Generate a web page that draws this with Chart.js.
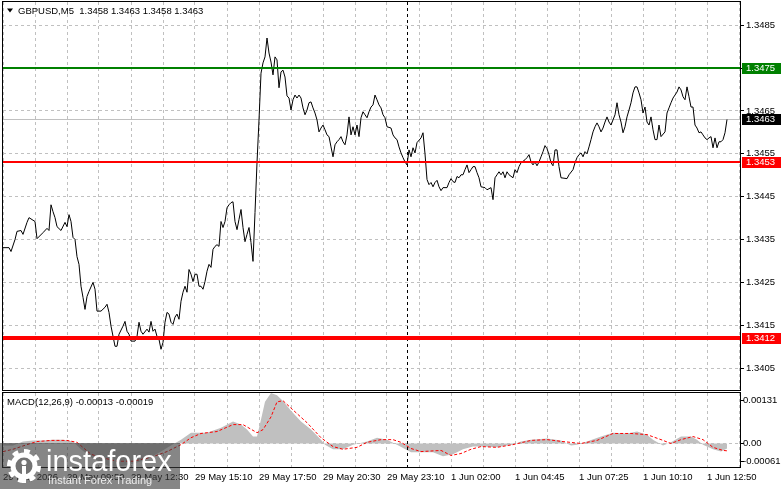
<!DOCTYPE html>
<html><head><meta charset="utf-8">
<script src="https://cdn.jsdelivr.net/npm/chart.js@4"></script>
<style>
html,body{margin:0;padding:0;background:#fff;overflow:hidden}
#wrap{position:relative;width:781px;height:489px;background:#fff}
canvas{position:absolute;left:0}
#c1{top:0}
#c2{top:391px}
</style></head><body>
<div id="wrap"><canvas id="c1" width="781" height="391"></canvas><canvas id="c2" width="781" height="98"></canvas></div>
<script>
// ---------------- DATA ----------------
const symbolTitle = 'GBPUSD,M5';
const titleOHLC = [1.3458, 1.3463, 1.3458, 1.3463];
const timeLabels = ['29 May 2026','29 May 09:50','29 May 12:30','29 May 15:10','29 May 17:50','29 May 20:30','29 May 23:10','1 Jun 02:00','1 Jun 04:45','1 Jun 07:25','1 Jun 10:10','1 Jun 12:50'];
const timeLabelBars = [0,32,64,96,128,160,192,224,256,288,320,352];
const priceTicks = [1.3405,1.3415,1.3425,1.3435,1.3445,1.3455,1.3465,1.3475,1.3485];
const priceRange = [1.33999, 1.34904];
const levelValues = [1.3475, 1.3453, 1.3412];
const bidPrice = 1.3463;
const separatorBar = 202;
const visibleBars = 368.5;
const macdParams = [12,26,9];
const macdLast = [-0.00013, -0.00019];
const macdRange = [-0.00061, 0.00131];

// [bar index, close]
const priceSeries = [
[0,1.34331],[3,1.34331],[4,1.34322],[6,1.34350],[7,1.34369],[9,1.34371],[10,1.34362],[12,1.34390],[13,1.34401],[16,1.34392],
[17,1.34352],[20,1.34366],[22,1.34376],[23,1.34371],[24,1.34431],[25,1.34415],[26,1.34401],[27,1.34380],[29,1.34371],[31,1.34390],
[32,1.34380],[33,1.34408],[34,1.34392],[35,1.34355],[36,1.34350],[37,1.34310],[38,1.34292],[39,1.34241],[40,1.34215],[41,1.34187],
[42,1.34217],[43,1.34229],[45,1.34250],[46,1.34234],[47,1.34183],[49,1.34183],[51,1.34192],[52,1.34199],[53,1.34180],[54,1.34148],
[56,1.34101],[57,1.34101],[58,1.34129],[60,1.34148],[61,1.34159],[62,1.34136],[63,1.34129],[64,1.34113],[66,1.34113],[67,1.34124],
[68,1.34157],[69,1.34136],[70,1.34129],[72,1.34141],[73,1.34134],[74,1.34159],[75,1.34136],[76,1.34141],[77,1.34124],[78,1.34117],
[79,1.34094],[80,1.34110],[81,1.34157],[82,1.34180],[83,1.34176],[84,1.34157],[85,1.34152],[86,1.34169],[87,1.34176],[88,1.34164],
[89,1.34206],[90,1.34227],[91,1.34241],[92,1.34227],[93,1.34280],[94,1.34269],[95,1.34252],[96,1.34269],[97,1.34269],[98,1.34241],
[99,1.34241],[100,1.34234],[101,1.34252],[102,1.34276],[103,1.34292],[104,1.34285],[105,1.34327],[106,1.34334],[107,1.34338],[108,1.34334],
[109,1.34392],[110,1.34378],[111,1.34392],[112,1.34424],[113,1.34431],[114,1.34436],[115,1.34438],[116,1.34392],[117,1.34373],[118,1.34397],
[119,1.34420],[120,1.34378],[121,1.34345],[122,1.34362],[123,1.34378],[124,1.34343],[125,1.34299],[126,1.34413],[127,1.34529],[128,1.34629],
[129,1.34738],[130,1.34762],[131,1.34776],[132,1.34820],[133,1.34785],[134,1.34764],[135,1.34734],[136,1.34776],[137,1.34769],[138,1.34704],
[139,1.34741],[140,1.34745],[141,1.34729],[142,1.34685],[143,1.34680],[144,1.34652],[145,1.34676],[146,1.34687],[147,1.34680],[148,1.34687],
[149,1.34680],[150,1.34657],[151,1.34641],[152,1.34652],[153,1.34669],[154,1.34671],[155,1.34657],[156,1.34645],[157,1.34629],[158,1.34601],
[159,1.34610],[160,1.34617],[161,1.34606],[162,1.34594],[163,1.34590],[164,1.34566],[165,1.34543],[166,1.34571],[167,1.34578],[168,1.34583],
[169,1.34590],[170,1.34578],[171,1.34571],[172,1.34594],[173,1.34636],[174,1.34594],[175,1.34613],[176,1.34594],[177,1.34617],[178,1.34590],
[179,1.34634],[180,1.34648],[181,1.34641],[182,1.34634],[183,1.34648],[184,1.34659],[185,1.34664],[186,1.34687],[187,1.34676],[188,1.34664],
[189,1.34657],[190,1.34641],[191,1.34634],[192,1.34613],[194,1.34610],[195,1.34594],[196,1.34587],[197,1.34583],[198,1.34566],[199,1.34552],
[200,1.34541],[201,1.34531],[202,1.34524],[203,1.34559],[204,1.34543],[205,1.34564],[206,1.34552],[207,1.34576],[209,1.34587],[210,1.34599],
[211,1.34550],[212,1.34490],[213,1.34478],[214,1.34483],[215,1.34473],[216,1.34483],[217,1.34488],[218,1.34473],[219,1.34464],[220,1.34471],
[222,1.34471],[223,1.34483],[224,1.34492],[225,1.34485],[226,1.34483],[227,1.34497],[228,1.34494],[229,1.34501],[230,1.34501],[231,1.34513],
[232,1.34524],[233,1.34506],[234,1.34513],[235,1.34520],[236,1.34520],[237,1.34506],[238,1.34494],[239,1.34473],[241,1.34471],[242,1.34466],
[244,1.34471],[245,1.34443],[246,1.34494],[247,1.34501],[248,1.34508],[249,1.34501],[250,1.34508],[251,1.34494],[252,1.34508],[253,1.34501],
[255,1.34494],[256,1.34513],[257,1.34506],[258,1.34520],[259,1.34529],[261,1.34536],[262,1.34541],[263,1.34548],[264,1.34531],[265,1.34524],
[266,1.34531],[267,1.34522],[268,1.34531],[269,1.34543],[270,1.34555],[271,1.34569],[272,1.34562],[273,1.34548],[274,1.34529],[275,1.34522],
[276,1.34559],[277,1.34559],[278,1.34520],[279,1.34494],[282,1.34492],[283,1.34501],[285,1.34513],[286,1.34529],[287,1.34541],[288,1.34548],
[289,1.34552],[290,1.34543],[291,1.34555],[292,1.34550],[293,1.34566],[294,1.34583],[295,1.34601],[296,1.34613],[297,1.34622],[298,1.34613],
[299,1.34601],[300,1.34610],[301,1.34624],[302,1.34636],[303,1.34624],[304,1.34617],[305,1.34629],[306,1.34641],[307,1.34669],[308,1.34641],
[309,1.34624],[310,1.34599],[311,1.34613],[312,1.34636],[313,1.34652],[314,1.34669],[315,1.34692],[316,1.34706],[317,1.34706],[318,1.34692],
[319,1.34676],[320,1.34645],[321,1.34659],[322,1.34624],[323,1.34617],[324,1.34636],[325,1.34606],[326,1.34583],[327,1.34583],[328,1.34617],
[329,1.34590],[331,1.34601],[332,1.34645],[333,1.34657],[334,1.34669],[335,1.34680],[337,1.34694],[338,1.34706],[339,1.34699],[340,1.34683],
[341,1.34676],[342,1.34706],[343,1.34683],[344,1.34659],[345,1.34659],[346,1.34617],[347,1.34610],[348,1.34599],[349,1.34601],[350,1.34594],
[351,1.34587],[352,1.34583],[353,1.34587],[354,1.34590],[355,1.34564],[356,1.34587],[357,1.34564],[358,1.34578],[359,1.34578],[360,1.34583],
[361,1.34599],[362,1.34630]
];

// [bar index, MACD main (histogram)]
const macdHistSeries = [
[0,-0.00005],[5,-0.00005],[10,0.00005],[15,0.00008],[20,0.00008],[25,0.00010],[30,0.00010],[35,0.00005],[39,-0.00015],[44,-0.00036],
[49,-0.00049],[54,-0.00061],[59,-0.00059],[64,-0.00054],[69,-0.00046],[74,-0.00036],[79,-0.00021],[84,-0.00005],[89,0.00010],[94,0.00028],
[102,0.00028],[109,0.00041],[115,0.00057],[119,0.00049],[122,0.00036],[125,0.00018],[127,0.00018],[129,0.00062],[131,0.00108],[134,0.00131],
[137,0.00125],[140,0.00110],[144,0.00085],[149,0.00057],[154,0.00036],[159,0.00010],[161,-0.00003],[165,-0.00015],[170,-0.00015],[175,-0.00003],
[182,0.00005],[187,0.00015],[192,0.00010],[197,-0.00003],[204,-0.00023],[209,-0.00023],[215,-0.00023],[220,-0.00033],[225,-0.00028],[230,-0.00015],
[235,-0.00008],[240,-0.00008],[247,-0.00010],[252,-0.00005],[255,-0.00003],[259,0.00005],[264,0.00010],[272,0.00013],[279,0.00008],[284,-0.00005],
[287,-0.00003],[292,0.00005],[299,0.00018],[305,0.00028],[312,0.00026],[317,0.00031],[322,0.00023],[325,0.00010],[330,-0.00005],[334,0.00003],
[339,0.00018],[344,0.00018],[347,0.00010],[350,-0.00003],[355,-0.00015],[359,-0.00021],[362,-0.00013]
];

// [bar index, signal]
const macdSignalSeries = [
[0,-0.00021],[5,-0.00015],[12,-0.00003],[17,0.00005],[24,0.00008],[32,0.00008],[37,0.00003],[44,-0.00028],[49,-0.00036],[57,-0.00046],
[65,-0.00046],[74,-0.00036],[82,-0.00021],[89,-0.00003],[94,0.00015],[99,0.00026],[107,0.00031],[115,0.00049],[120,0.00049],[127,0.00028],
[130,0.00036],[134,0.00069],[137,0.00108],[140,0.00111],[145,0.00087],[152,0.00054],[159,0.00015],[165,-0.00008],[170,-0.00015],[177,-0.00010],
[182,0.00003],[189,0.00010],[195,0.00010],[199,0.00003],[204,-0.00013],[209,-0.00021],[219,-0.00018],[224,-0.00031],[229,-0.00026],[234,-0.00015],
[239,-0.00008],[247,-0.00010],[255,-0.00003],[264,0.00008],[272,0.00010],[280,0.00005],[289,0.00000],[297,0.00008],[305,0.00026],[314,0.00026],
[322,0.00023],[329,0.00010],[334,0.00000],[339,0.00010],[345,0.00018],[350,0.00010],[355,-0.00010],[360,-0.00018],[362,-0.00019]
];

// ---------------- STYLE ----------------
const FONT = "'Liberation Sans', Arial, sans-serif";
const GRID = '#c0c0c0';
const levelStyles = [{color:'#008000',width:2},{color:'#ff0000',width:2},{color:'#ff0000',width:4}];
Chart.defaults.font.family = FONT;
Chart.defaults.font.size = 9.5;
Chart.defaults.color = '#000';

function gridTicks(s){ const t=[]; for(let v=0; v<=s.max; v+=16) t.push({value:v}); s.ticks=t; }
const toXY = arr => arr.map(p => ({x:p[0], y:p[1]}));
const crisp = v => Math.round(v) + 0.5;

const mainDeco = {
  id:'mainDeco',
  beforeDatasetsDraw(chart){
    const {ctx, chartArea:a, scales:{y}} = chart;
    ctx.save();
    const yb = crisp(y.getPixelForValue(bidPrice));
    ctx.strokeStyle = '#c0c0c0'; ctx.lineWidth = 1;
    ctx.beginPath(); ctx.moveTo(a.left, yb); ctx.lineTo(a.right, yb); ctx.stroke();
    ctx.restore();
  },
  afterDatasetsDraw(chart){
    const {ctx, chartArea:a, scales:{x,y}} = chart;
    ctx.save();
    ctx.beginPath(); ctx.rect(a.left, a.top, a.right-a.left, a.bottom-a.top); ctx.clip();
    const xs = crisp(x.getPixelForValue(separatorBar));
    ctx.strokeStyle = '#000'; ctx.lineWidth = 1; ctx.setLineDash([3,3]);
    ctx.beginPath(); ctx.moveTo(xs, a.top); ctx.lineTo(xs, a.bottom); ctx.stroke();
    ctx.setLineDash([]);
    levelValues.forEach((v,i) => {
      const st = levelStyles[i];
      const yy = Math.round(y.getPixelForValue(v)) + (st.width % 2 ? 0.5 : 0);
      ctx.strokeStyle = st.color; ctx.lineWidth = st.width;
      ctx.beginPath(); ctx.moveTo(a.left, yy); ctx.lineTo(a.right, yy); ctx.stroke();
    });
    ctx.restore();
  },
  afterDraw(chart){
    const {ctx, chartArea:a, scales:{y}} = chart;
    ctx.save();
    // frame
    ctx.strokeStyle = '#000'; ctx.lineWidth = 1;
    ctx.strokeRect(a.left-0.5, a.top-0.5, a.right-a.left+1, a.bottom-a.top+1);
    // title
    ctx.fillStyle = '#000';
    ctx.beginPath(); ctx.moveTo(7,8.5); ctx.lineTo(13,8.5); ctx.lineTo(10,12.5); ctx.closePath(); ctx.fill();
    ctx.font = '9.5px ' + FONT; ctx.textBaseline = 'middle'; ctx.textAlign = 'left';
    ctx.fillText(symbolTitle + '  ' + titleOHLC.map(v=>v.toFixed(4)).join(' '), 18, 11);
    // price boxes
    const boxes = [
      {v:levelValues[0], bg:levelStyles[0].color},
      {v:bidPrice, bg:'#000'},
      {v:levelValues[1], bg:levelStyles[1].color},
      {v:levelValues[2], bg:levelStyles[2].color}
    ];
    boxes.forEach(b => {
      const yc = Math.round(y.getPixelForValue(b.v));
      ctx.fillStyle = b.bg;
      ctx.fillRect(a.right+2, yc-5, 781-(a.right+2), 11);
      ctx.fillStyle = '#fff';
      ctx.fillText(b.v.toFixed(4), a.right+6, yc+0.5);
    });
    ctx.restore();
  }
};

const macdDeco = {
  id:'macdDeco',
  afterDatasetsDraw(chart){
    const {ctx, chartArea:a, scales:{x}} = chart;
    ctx.save();
    const xs = crisp(x.getPixelForValue(separatorBar));
    ctx.strokeStyle = '#000'; ctx.lineWidth = 1; ctx.setLineDash([3,3]);
    ctx.beginPath(); ctx.moveTo(xs, a.top); ctx.lineTo(xs, a.bottom); ctx.stroke();
    ctx.restore();
  },
  afterDraw(chart){
    const {ctx, chartArea:a, scales:{y}} = chart;
    ctx.save();
    ctx.strokeStyle = '#000'; ctx.lineWidth = 1;
    ctx.strokeRect(a.left-0.5, a.top-0.5, a.right-a.left+1, a.bottom-a.top+1);
    ctx.fillStyle = '#000';
    ctx.font = '9.5px ' + FONT; ctx.textBaseline = 'middle'; ctx.textAlign = 'left';
    ctx.fillText('MACD(' + macdParams.join(',') + ') ' + macdLast.map(v=>v.toFixed(5)).join(' '), 7, 11);
    const labs = [
      {t:macdRange[1].toFixed(5), y:y.getPixelForValue(macdRange[1]) + 7},
      {t:'0.00', y:y.getPixelForValue(0)},
      {t:macdRange[0].toFixed(5), y:y.getPixelForValue(macdRange[0]) - 6}
    ];
    labs.forEach(l => {
      const yy = crisp(l.y);
      ctx.beginPath(); ctx.moveTo(a.right, yy); ctx.lineTo(a.right+4, yy); ctx.stroke();
      ctx.fillText(l.t, a.right+3, yy);
    });
    // watermark
    const top = 52;
    ctx.fillStyle = 'rgba(60,60,60,0.62)';
    ctx.fillRect(0, top, 180, chart.height - top);
    // gear logo
    const cx = 24, cy = 75, teeth = 8;
    ctx.fillStyle = '#fff';
    ctx.beginPath();
    for (let i = 0; i < teeth*2; i++) {
      const a0 = i*Math.PI/teeth - Math.PI/2, a1 = (i+1)*Math.PI/teeth - Math.PI/2;
      ctx.arc(cx, cy, i%2 === 0 ? 17 : 13.5, a0, a1);
    }
    ctx.closePath(); ctx.fill();
    ctx.fillStyle = 'rgb(115,115,115)';
    ctx.beginPath(); ctx.arc(cx, cy, 8.5, 0, Math.PI*2); ctx.fill();
    ctx.fillStyle = '#fff';
    ctx.beginPath(); ctx.arc(cx, cy-3.5, 2.6, 0, Math.PI*2); ctx.fill();
    ctx.fillRect(cx-2, cy, 4, 17);
    ctx.font = '29px ' + FONT; ctx.textBaseline = 'alphabetic';
    ctx.fillText('instaforex', 46, 80);
    ctx.fillStyle = 'rgba(255,255,255,0.85)';
    ctx.font = '11px ' + FONT;
    ctx.fillText('Instant Forex Trading', 48, 93);
    ctx.restore();
  }
};

new Chart(document.getElementById('c1'), {
  type:'line',
  data:{ datasets:[{ data: toXY(priceSeries), borderColor:'#000', borderWidth:1, pointRadius:0, tension:0, fill:false }]},
  options:{
    responsive:false, animation:false, events:[],
    layout:{ padding:{left:3, top:2, right:0, bottom:1} },
    plugins:{ legend:{display:false}, tooltip:{enabled:false} },
    scales:{
      x:{ type:'linear', min:0, max:visibleBars, afterBuildTicks:gridTicks,
          ticks:{display:false}, grid:{color:GRID, drawTicks:false},
          border:{display:false, dash:[3,3]},
          afterFit(s){ s.height=0; s.paddingLeft=0; s.paddingRight=0; } },
      y:{ type:'linear', position:'right', min:priceRange[0], max:priceRange[1],
          afterBuildTicks(s){ s.ticks = priceTicks.map(v=>({value:v})); },
          ticks:{ callback:v=>Number(v).toFixed(4), padding:2, color:'#000', font:{size:9.5} },
          grid:{ color:GRID, tickColor:'#000', tickLength:4 },
          border:{display:false, dash:[3,3]},
          afterFit(s){ s.width=41; s.paddingTop=0; s.paddingBottom=0; } }
    }
  },
  plugins:[mainDeco]
});

new Chart(document.getElementById('c2'), {
  type:'line',
  data:{ datasets:[
    { data: toXY(macdSignalSeries), borderColor:'#ff0000', borderWidth:1, borderDash:[3,2], pointRadius:0, tension:0, fill:false },
    { data: toXY(macdHistSeries), borderWidth:0, borderColor:'rgba(0,0,0,0)', backgroundColor:'#c0c0c0', pointRadius:0, tension:0, fill:'origin' }
  ]},
  options:{
    responsive:false, animation:false, events:[],
    layout:{ padding:{left:3, top:2, right:0, bottom:0} },
    plugins:{ legend:{display:false}, tooltip:{enabled:false} },
    scales:{
      x:{ type:'linear', min:0, max:visibleBars, afterBuildTicks:gridTicks,
          ticks:{ autoSkip:false, maxRotation:0, minRotation:0, align:'start', padding:5, color:'#000', font:{size:9.5},
                  callback:(v)=>{ const i = timeLabelBars.indexOf(v); return i >= 0 ? timeLabels[i] : ''; } },
          grid:{color:GRID, drawTicks:false},
          border:{display:false, dash:[3,3]},
          afterFit(s){ s.height=22; s.paddingLeft=0; s.paddingRight=0; } },
      y:{ type:'linear', position:'right', min:macdRange[0], max:macdRange[1],
          afterBuildTicks(s){ s.ticks=[{value:0}]; },
          ticks:{display:false},
          grid:{color:GRID, drawTicks:false},
          border:{display:false, dash:[3,3]},
          afterFit(s){ s.width=41; s.paddingTop=0; s.paddingBottom=0; } }
    }
  },
  plugins:[macdDeco]
});
</script>
</body></html>
